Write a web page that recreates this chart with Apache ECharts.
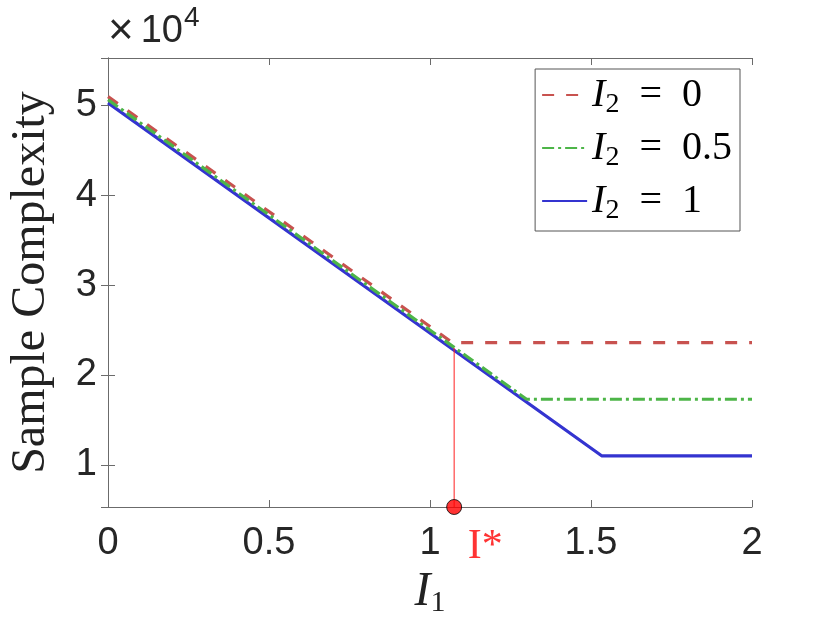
<!DOCTYPE html>
<html>
<head>
<meta charset="utf-8">
<script src="https://cdn.jsdelivr.net/npm/echarts@6/dist/echarts.min.js"></script>
<style>
  html, body { margin: 0; padding: 0; background: #fff; }
  #chart { width: 830px; height: 623px; }
</style>
</head>
<body>
<div id="chart"></div>
<script>
// x ticks along I_1
const xTicks = [0, 0.5, 1, 1.5, 2];
// piecewise curves (x, y)
const redX = [0, 1.07, 2];
const redY = [51000, 23600, 23600];
const greenX = [0, 1.30, 2];
const greenY = [50650, 17300, 17300];
const blueX = [0, 1.533, 2];
const blueY = [50300, 11000, 11000];
// I* marker
const starX = [1.075, 1.075];
const starY = [23000, 5300];

const yMin = 5300, yMax = 55300;

function pairs(xs, ys) {
  return xs.map((x, i) => [x, ys[i]]);
}

const axisColor = "#6b6b6b";
const textColor = "#262626";
const sans = "Liberation Sans";
const serif = "Liberation Serif";

const legendRich = {
  i: { fontFamily: serif, fontStyle: "italic", fontSize: 40, color: "#000" },
  s: { fontFamily: serif, fontSize: 28, color: "#000", padding: [20, 0, 0, 0] },
  n: { fontFamily: serif, fontSize: 40, color: "#000" }
};

var myChart = echarts.init(document.getElementById("chart"));

myChart.setOption({
  animation: false,
  grid: { left: 108, top: 58, right: 78, bottom: 116, outerBoundsMode: "none", containLabel: false },
  legend: {
    orient: "vertical",
    right: 90,
    top: 69,
    itemWidth: 45,
    itemHeight: 10,
    itemGap: 9,
    padding: [6, 8, 6, 6],
    borderColor: "#555",
    borderWidth: 1,
    backgroundColor: "#fff",
    itemStyle: { opacity: 0 },
    data: ["red", "green", "blue"],
    formatter: function (name) {
      const v = { red: "0", green: "0.5", blue: "1" }[name];
      return "{i|I}{s|2}{n|  =  " + v + "}";
    },
    textStyle: { rich: legendRich }
  },
  graphic: [
    {
      type: "text",
      left: 108,
      top: 4,
      style: {
        text: "{x|×}{t|10}{e|4}",
        rich: {
          x: { fontFamily: sans, fontSize: 44, fill: textColor, padding: [14, 7, 0, 0] },
          t: { fontFamily: sans, fontSize: 38, fill: textColor, padding: [14, 1, 0, 0] },
          e: { fontFamily: sans, fontSize: 28, fill: textColor, padding: [0, 0, 14, 0] }
        }
      }
    }
  ],
  xAxis: [
    {
      type: "value",
      min: 0,
      max: 2,
      interval: 0.5,
      name: "{i|I}{s|1}",
      nameLocation: "middle",
      nameGap: 55,
      nameTextStyle: {
        rich: {
          i: { fontFamily: serif, fontStyle: "italic", fontSize: 48, color: "#222" },
          s: { fontFamily: serif, fontSize: 30, color: "#222", padding: [22, 0, 0, 0] }
        }
      },
      axisLine: { lineStyle: { color: axisColor, width: 1 } },
      axisTick: { inside: true, length: 7, lineStyle: { color: axisColor } },
      axisLabel: {
        fontFamily: sans,
        fontSize: 38,
        color: textColor,
        margin: 18,
        formatter: v => (xTicks.indexOf(v) >= 0 ? String(v) : "")
      },
      splitLine: { show: false }
    },
    {
      type: "value",
      position: "top",
      min: 0,
      max: 2,
      interval: 0.5,
      axisLine: { lineStyle: { color: axisColor, width: 1 } },
      axisTick: { inside: true, length: 7, lineStyle: { color: axisColor } },
      axisLabel: { show: false },
      splitLine: { show: false }
    }
  ],
  yAxis: [
    {
      type: "value",
      min: yMin,
      max: yMax,
      name: "Sample Complexity",
      nameLocation: "middle",
      nameRotate: 90,
      nameGap: 53,
      nameTextStyle: { fontFamily: serif, fontSize: 48, color: "#222" },
      axisLine: { show: true, lineStyle: { color: axisColor, width: 1 } },
      axisTick: { inside: true, length: 7, lineStyle: { color: axisColor } },
      axisLabel: {
        fontFamily: sans,
        fontSize: 38,
        color: textColor,
        margin: 11,
        formatter: v => (v % 10000 === 0 ? String(v / 10000) : "")
      },
      splitLine: { show: false }
    },
    {
      type: "value",
      position: "right",
      min: yMin,
      max: yMax,
      axisLine: { show: true, lineStyle: { color: axisColor, width: 1 } },
      axisTick: { inside: true, length: 7, lineStyle: { color: axisColor } },
      axisLabel: { show: false },
      splitLine: { show: false }
    }
  ],
  series: [
    {
      name: "red",
      type: "line",
      data: pairs(redX, redY),
      symbol: "none",
      color: "#c8524f",
      lineStyle: { width: 3.2, type: [12, 12], color: "#c8524f" },
      z: 3
    },
    {
      name: "green",
      type: "line",
      data: pairs(greenX, greenY),
      symbol: "none",
      color: "#4db548",
      lineStyle: { width: 3.2, type: [12, 4, 3, 4], color: "#4db548" },
      z: 4
    },
    {
      name: "blue",
      type: "line",
      data: pairs(blueX, blueY),
      symbol: "none",
      color: "#3434d0",
      lineStyle: { width: 3.2, color: "#3434d0" },
      z: 2
    },
    {
      name: "istar",
      type: "line",
      data: pairs(starX, starY),
      symbol: "none",
      lineStyle: { width: 1, color: "#ff2020" },
      z: 5
    },
    {
      name: "istarDot",
      type: "scatter",
      data: [[starX[1], starY[1]]],
      symbolSize: 15,
      clip: false,
      itemStyle: { color: "#ff0000", borderColor: "#000", borderWidth: 1 },
      label: {
        show: true,
        position: "bottom",
        offset: [31, 6],
        formatter: "I*",
        fontFamily: serif,
        fontSize: 42,
        color: "#ff0000"
      },
      z: 6
    }
  ]
});
</script>
</body>
</html>
